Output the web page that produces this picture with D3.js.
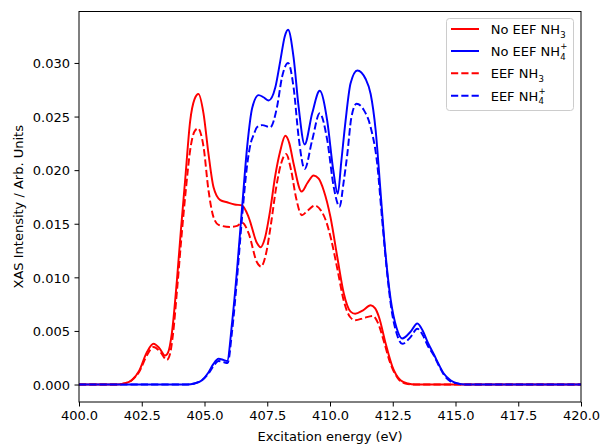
<!DOCTYPE html>
<html>
<head>
<meta charset="utf-8">
<script src="https://cdn.jsdelivr.net/npm/d3@7"></script>
<style>
  html, body { margin: 0; padding: 0; background: #ffffff; }
  svg { display: block; }
  text { font-family: "DejaVu Sans", sans-serif; }
</style>
</head>
<body>
<svg id="chart" width="601" height="445"></svg>
<script>
// ---------------- data ----------------
const energyTicks = [400.0, 402.5, 405.0, 407.5, 410.0, 412.5, 415.0, 417.5, 420.0];
const intensityTicks = [0.000, 0.005, 0.010, 0.015, 0.020, 0.025, 0.030];

// [excitation energy (eV), XAS intensity]
const noEefNH3 = [[400,0],[401.5,0],[401.8,0.0001],[402.1,0.0004],[402.4,0.0013],[402.7,0.0030],[402.97,0.0038],[403.2,0.0034],[403.43,0.0027],[403.55,0.0030],[403.7,0.0048],[403.9,0.0097],[404.06,0.0144],[404.23,0.0191],[404.43,0.0246],[404.6,0.0266],[404.76,0.0271],[404.96,0.0253],[405.16,0.0215],[405.36,0.0184],[405.63,0.0172],[405.9,0.0170],[406.2,0.0168],[406.5,0.0167],[406.76,0.0156],[407.09,0.0132],[407.23,0.0128],[407.4,0.0136],[407.62,0.0163],[407.82,0.0195],[408.02,0.0218],[408.22,0.0232],[408.38,0.0225],[408.55,0.0206],[408.87,0.0180],[409.1,0.0188],[409.35,0.0195],[409.55,0.0192],[409.75,0.0181],[410.02,0.0156],[410.29,0.0119],[410.55,0.0085],[410.82,0.0068],[411.0,0.0066],[411.3,0.0069],[411.62,0.0074],[411.8,0.0071],[411.95,0.0063],[412.22,0.0038],[412.48,0.0017],[412.81,0.0004],[413.1,0.0001],[413.4,0],[420,0]];

const noEefNH4 = [[400,0],[404.3,0],[404.6,0.0001],[404.9,0.0004],[405.15,0.0011],[405.35,0.0019],[405.56,0.0024],[405.75,0.0023],[405.9,0.0022],[406.1,0.0058],[406.3,0.0108],[406.5,0.0166],[406.7,0.0222],[406.9,0.0258],[407.16,0.0270],[407.35,0.0268],[407.56,0.0265],[407.82,0.0277],[408.02,0.0302],[408.2,0.0325],[408.33,0.0331],[408.55,0.0305],[408.75,0.0259],[408.99,0.0224],[409.29,0.0253],[409.59,0.0274],[409.89,0.0246],[410.13,0.0200],[410.31,0.0178],[410.45,0.0208],[410.62,0.0246],[410.82,0.0281],[411.09,0.0293],[411.42,0.0285],[411.62,0.0271],[411.82,0.0237],[412.02,0.0178],[412.2,0.0125],[412.42,0.0079],[412.65,0.0053],[412.88,0.0043],[413.2,0.0049],[413.48,0.0057],[413.7,0.0050],[413.9,0.0039],[414.14,0.0028],[414.35,0.0018],[414.54,0.0010],[414.8,0.0004],[415.08,0.0001],[415.4,0],[420,0]];

const eefNH3 = [[400,0],[401.5,0],[401.8,0.0001],[402.1,0.0004],[402.4,0.0012],[402.7,0.0027],[402.97,0.0035],[403.25,0.0030],[403.5,0.0023],[403.62,0.0028],[403.75,0.0048],[403.92,0.0092],[404.08,0.0137],[404.25,0.0180],[404.45,0.0222],[404.6,0.0236],[404.74,0.0239],[404.96,0.0222],[405.16,0.0181],[405.36,0.0156],[405.56,0.0149],[406.03,0.0147],[406.3,0.0148],[406.5,0.0151],[406.76,0.0141],[407.09,0.0114],[407.25,0.0110],[407.45,0.0122],[407.65,0.0150],[407.85,0.0183],[408.05,0.0206],[408.25,0.0215],[408.45,0.0200],[408.65,0.0174],[408.88,0.0158],[409.1,0.0162],[409.4,0.0167],[409.65,0.0162],[409.85,0.0152],[410.05,0.0135],[410.3,0.0107],[410.55,0.0078],[410.8,0.0063],[411.0,0.0060],[411.35,0.0062],[411.7,0.0064],[411.9,0.0058],[412.15,0.0040],[412.4,0.0020],[412.7,0.0006],[413.0,0.0001],[413.4,0],[420,0]];

const eefNH4 = [[400,0],[404.3,0],[404.6,0.0001],[404.9,0.0004],[405.15,0.0010],[405.35,0.0017],[405.56,0.0022],[405.75,0.0021],[405.92,0.0020],[406.1,0.0050],[406.3,0.0100],[406.5,0.0157],[406.7,0.0205],[406.85,0.0226],[406.96,0.0233],[407.09,0.0240],[407.3,0.0242],[407.62,0.0240],[407.89,0.0259],[408.09,0.0287],[408.33,0.0300],[408.55,0.0277],[408.75,0.0231],[408.99,0.0201],[409.29,0.0228],[409.59,0.0253],[409.89,0.0228],[410.15,0.0184],[410.38,0.0166],[410.55,0.0190],[410.69,0.0215],[410.85,0.0249],[411.06,0.0262],[411.35,0.0256],[411.62,0.0240],[411.88,0.0206],[412.08,0.0153],[412.25,0.0110],[412.45,0.0070],[412.65,0.0048],[412.88,0.0038],[413.2,0.0044],[413.48,0.0052],[413.7,0.0046],[413.9,0.0036],[414.14,0.0027],[414.35,0.0017],[414.54,0.0009],[414.8,0.0003],[415.08,0.0001],[415.4,0],[420,0]];

const seriesNames = ["No EEF NH3", "No EEF NH4+", "EEF NH3", "EEF NH4+"];
const seriesColors = ["#ff0000", "#0000ff", "#ff0000", "#0000ff"];

// ---------------- layout ----------------
const svg = d3.select("#chart");
const plot = { left: 79, right: 581, top: 11.5, bottom: 402 };

const x = d3.scaleLinear().domain([400, 420]).range([plot.left, plot.right]);
const y = d3.scaleLinear().domain([-0.00163, 0.0348]).range([plot.bottom, plot.top]);

svg.append("rect").attr("width", 601).attr("height", 445).attr("fill", "#ffffff");

svg.append("defs").append("clipPath").attr("id", "clip")
  .append("rect")
  .attr("x", plot.left).attr("y", plot.top)
  .attr("width", plot.right - plot.left).attr("height", plot.bottom - plot.top);

const line = d3.line()
  .x(d => x(d[0]))
  .y(d => y(d[1]))
  .curve(d3.curveMonotoneX);

const series = [
  { data: noEefNH3, color: seriesColors[0], dash: null },
  { data: noEefNH4, color: seriesColors[1], dash: null },
  { data: eefNH3, color: seriesColors[2], dash: "7.2,3.1" },
  { data: eefNH4, color: seriesColors[3], dash: "7.2,3.1" }
];

const lines = svg.append("g").attr("clip-path", "url(#clip)");
series.forEach(s => {
  lines.append("path")
    .attr("d", line(s.data))
    .attr("fill", "none")
    .attr("stroke", s.color)
    .attr("stroke-width", 1.95)
    .attr("stroke-dasharray", s.dash)
    .attr("stroke-linejoin", "round");
});

// ---------------- axes ----------------
const xAxis = d3.axisBottom(x)
  .tickValues(energyTicks)
  .tickFormat(d3.format(".1f"))
  .tickSize(4.5)
  .tickPadding(4)
  .tickSizeOuter(0);

const yAxis = d3.axisLeft(y)
  .tickValues(intensityTicks)
  .tickFormat(d3.format(".3f"))
  .tickSize(4.5)
  .tickPadding(4.5)
  .tickSizeOuter(0);

const gx = svg.append("g").attr("transform", `translate(0,${plot.bottom})`).call(xAxis);
const gy = svg.append("g").attr("transform", `translate(${plot.left},0)`).call(yAxis);

[gx, gy].forEach(g => {
  g.select(".domain").remove();
  g.selectAll(".tick line").attr("stroke", "#000").attr("stroke-width", 1);
  g.selectAll(".tick text")
    .attr("fill", "#000")
    .style("font-family", "'DejaVu Sans', sans-serif")
    .style("font-size", "13px");
});
gx.selectAll(".tick text").attr("dy", "0.76em");
gy.selectAll(".tick text").attr("dy", "0.36em");

// frame
svg.append("rect")
  .attr("x", plot.left).attr("y", plot.top)
  .attr("width", plot.right - plot.left).attr("height", plot.bottom - plot.top)
  .attr("fill", "none").attr("stroke", "#000").attr("stroke-width", 1);

// axis labels
svg.append("text")
  .attr("x", (plot.left + plot.right) / 2)
  .attr("y", 441)
  .attr("text-anchor", "middle")
  .style("font-size", "13px")
  .attr("fill", "#000")
  .text("Excitation energy (eV)");

svg.append("text")
  .attr("transform", `translate(23,${(plot.top + plot.bottom) / 2}) rotate(-90)`)
  .attr("text-anchor", "middle")
  .style("font-size", "13px")
  .attr("fill", "#000")
  .text("XAS Intensity / Arb. Units");

// ---------------- legend ----------------
const legend = svg.append("g");
legend.append("rect")
  .attr("x", 446.5).attr("y", 18.5)
  .attr("width", 127).attr("height", 92)
  .attr("rx", 3).attr("ry", 3)
  .attr("fill", "#ffffff").attr("fill-opacity", 0.8)
  .attr("stroke", "#cccccc").attr("stroke-width", 1);

const legendRows = [
  { base: "No EEF NH", sub: "3", sup: null, lineY: 29, textY: 34 },
  { base: "No EEF NH", sub: "4", sup: "+", lineY: 51, textY: 56 },
  { base: "EEF NH", sub: "3", sup: null, lineY: 73.3, textY: 78.3 },
  { base: "EEF NH", sub: "4", sup: "+", lineY: 95.7, textY: 100.7 }
];

legendRows.forEach((r, i) => {
  const s = series[i];
  legend.append("line")
    .attr("x1", 451).attr("x2", 479)
    .attr("y1", r.lineY).attr("y2", r.lineY)
    .attr("stroke", s.color).attr("stroke-width", 1.95)
    .attr("stroke-dasharray", s.dash);
  const t = legend.append("text")
    .attr("x", 490.7).attr("y", r.textY)
    .style("font-size", "13px")
    .attr("fill", "#000")
    .text(r.base);
  const w = t.node().getComputedTextLength();
  legend.append("text")
    .attr("x", 490.7 + w + 0.3).attr("y", r.textY + 3.5)
    .style("font-size", "8.5px")
    .attr("fill", "#000")
    .text(r.sub);
  if (r.sup) {
    legend.append("text")
      .attr("x", 490.7 + w + 0.3).attr("y", r.textY - 6.6)
      .style("font-size", "8.5px")
      .attr("fill", "#000")
      .text(r.sup);
  }
});
</script>
</body>
</html>
